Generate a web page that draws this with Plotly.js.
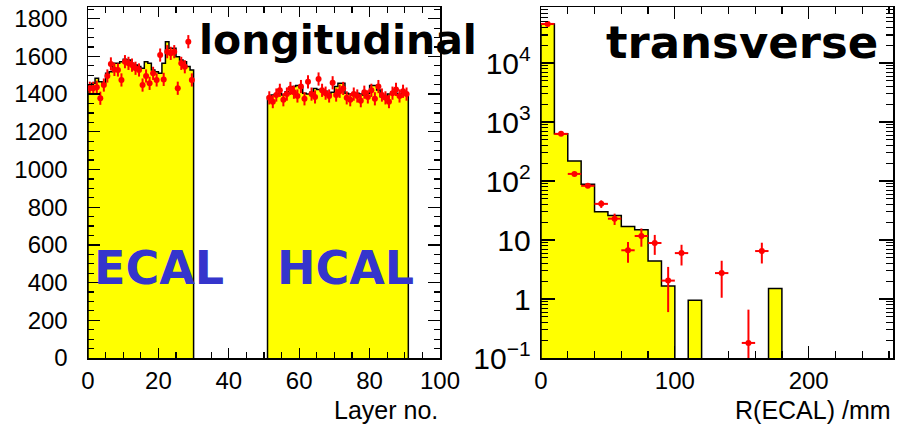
<!DOCTYPE html>
<html><head><meta charset="utf-8">
<script src="https://cdn.plot.ly/plotly-3.0.1.min.js"></script>
<style>html,body{margin:0;padding:0;background:#fff}#chart{width:897px;height:427px}</style>
</head><body><div id="chart"></div>
<script>
// ---- Longitudinal profile (layer no.) ----
const ecalFirstLayer = 0;
const ecalSim = [1448,1457,1484,1466,1457,1510,1519,1563,1563,1572,1585,1581,1563,1554,1546,1537,1572,1563,1528,1519,1510,1563,1678,1643,1643,1598,1581,1572,1546,1528];
const ecalData = [1431,1431,1436,1378,1448,1496,1560,1531,1528,1475,1572,1563,1554,1537,1528,1448,1496,1457,1510,1475,1607,1478,1625,1616,1625,1431,1563,1545,1678,1475];
const hcalFirstLayer = 51;
const hcalSim = [1385,1395,1400,1405,1395,1413,1405,1440,1445,1435,1404,1400,1410,1430,1425,1420,1415,1400,1410,1440,1457,1457,1404,1400,1395,1405,1400,1395,1404,1445,1445,1422,1386,1386,1400,1410,1404,1398,1404,1400];
const hcalData = [1380,1360,1395,1420,1370,1400,1430,1410,1390,1440,1375,1465,1400,1385,1480,1420,1405,1390,1460,1395,1415,1430,1380,1370,1400,1390,1365,1410,1385,1420,1375,1440,1395,1380,1360,1405,1425,1390,1415,1400];
const layerErr = 35;

// ---- Transverse profile R(ECAL) /mm, 10 mm bins ----
const rBinWidth = 10;
const rSim  = [46000,630,218,88,30,26,17,15,4.4,1.66,0,0.95,0,0,0,0,0,1.5];
const rData = [46000,630,132,83,41,23,6.7,11.7,8.9,2.05,6.0,null,null,2.75,null,0.18,6.5,null];
const rErrPlus  = [0,0,0,0,6,5,2.6,4.0,3.3,1.45,2.3,null,null,1.7,null,0.48,2.5,null];
const rErrMinus = [0,0,0,0,6,5,2.6,4.0,3.3,1.45,2.3,null,null,1.7,null,0.08,2.5,null];

function stepOutline(first, width, vals, floor){
  const xs=[first], ys=[floor];
  vals.forEach((v,i)=>{ xs.push(first+i*width); ys.push(v>0?v:floor); });
  xs.push(first+vals.length*width); ys.push(floor);
  return {xs, ys};
}
function centers(first,width,n){ return Array.from({length:n},(_,i)=>first+(i+0.5)*width); }

const yellow='#ffff00', red='#ff0000';
const histStyle = {mode:'lines', line:{shape:'hv', color:'#000', width:1.5}, fill:'tozeroy', fillcolor:yellow, hoverinfo:'skip', showlegend:false};
const ptStyle = (xa,ya)=>({mode:'markers', type:'scatter', xaxis:xa, yaxis:ya, marker:{color:red, size:6, symbol:'circle'}, showlegend:false});

const ec = stepOutline(ecalFirstLayer,1,ecalSim,0);
const hc = stepOutline(hcalFirstLayer,1,hcalSim,0);
const rc = stepOutline(0,rBinWidth,rSim,1e-3);

const traces = [
  Object.assign({type:'scatter', x:ec.xs, y:ec.ys, xaxis:'x', yaxis:'y'}, histStyle),
  Object.assign({type:'scatter', x:hc.xs, y:hc.ys, xaxis:'x', yaxis:'y'}, histStyle),
  Object.assign(ptStyle('x','y'), {x:centers(ecalFirstLayer,1,ecalData.length), y:ecalData,
     error_y:{type:'constant', value:layerErr, color:red, thickness:2, width:0},
     error_x:{type:'constant', value:0.5, color:red, thickness:2, width:0}}),
  Object.assign(ptStyle('x','y'), {x:centers(hcalFirstLayer,1,hcalData.length), y:hcalData,
     error_y:{type:'constant', value:layerErr, color:red, thickness:2, width:0},
     error_x:{type:'constant', value:0.5, color:red, thickness:2, width:0}}),
  Object.assign({type:'scatter', x:rc.xs, y:rc.ys, xaxis:'x2', yaxis:'y2'}, histStyle),
  Object.assign(ptStyle('x2','y2'), {x:centers(0,rBinWidth,rData.length), y:rData,
     error_y:{type:'data', array:rErrPlus, arrayminus:rErrMinus, symmetric:false, color:red, thickness:2, width:0},
     error_x:{type:'constant', value:rBinWidth/2, color:red, thickness:2, width:0}})
];

const W=897, H=427;
const tickFont = {family:'Liberation Sans, Arial, sans-serif', size:24, color:'#000'};
const axBase = {showline:true, linecolor:'#000', linewidth:1.5, mirror:'allticks', ticks:'inside', tickcolor:'#000', tickwidth:1.2,
  showgrid:false, zeroline:false, tickfont:tickFont, fixedrange:true};
const yDom = [(H-358)/H, (H-7)/H];

const layout = {
  width:W, height:H, margin:{l:0,r:0,t:0,b:0}, paper_bgcolor:'#fff', plot_bgcolor:'#fff', showlegend:false,
  xaxis: Object.assign({}, axBase, {domain:[88/W, 440/W], range:[0,100], dtick:20, ticklen:10,
     minor:{dtick:5, ticklen:6, ticks:'inside', tickcolor:'#000'}, ticklabelstandoff:1, anchor:'y'}),
  yaxis: Object.assign({}, axBase, {domain:yDom, range:[0,1862], dtick:200, ticklen:12,
     minor:{dtick:50, ticklen:6, ticks:'inside', tickcolor:'#000'}, ticklabelstandoff:14, anchor:'x'}),
  xaxis2: Object.assign({}, axBase, {domain:[541/W, 893/W], range:[0,263], dtick:100, ticklen:12,
     minor:{dtick:20, ticklen:7, ticks:'inside', tickcolor:'#000'}, ticklabelstandoff:1, anchor:'y2'}),
  yaxis2: Object.assign({}, axBase, {domain:yDom, type:'log', range:[-1,4.95], dtick:1, exponentformat:'power', ticklen:14,
     minor:{dtick:'D1', ticklen:7, ticks:'inside', tickcolor:'#000'}, ticklabelstandoff:4, anchor:'x2'}),
  annotations:[
    {text:'longitudinal', xref:'paper', yref:'paper', x:338/W, y:1-40/H, xanchor:'center', yanchor:'middle', showarrow:false,
     font:{family:'DejaVu Sans', size:41, weight:'bold', color:'#000'}},
    {text:'transverse', xref:'paper', yref:'paper', x:742/W, y:1-42/H, xanchor:'center', yanchor:'middle', showarrow:false,
     font:{family:'DejaVu Sans', size:45, weight:'bold', color:'#000'}},
    {text:'ECAL', xref:'paper', yref:'paper', x:159/W, y:1-268/H, xanchor:'center', yanchor:'middle', showarrow:false,
     font:{family:'DejaVu Sans', size:46, weight:'bold', color:'#3535cc'}},
    {text:'HCAL', xref:'paper', yref:'paper', x:345/W, y:1-268/H, xanchor:'center', yanchor:'middle', showarrow:false,
     font:{family:'DejaVu Sans', size:46, weight:'bold', color:'#3535cc'}},
    {text:'Layer no.', xref:'paper', yref:'paper', x:440/W, y:1-410/H, xanchor:'right', yanchor:'middle', showarrow:false,
     font:{family:'Liberation Sans, Arial, sans-serif', size:25, color:'#000'}},
    {text:'R(ECAL) /mm', xref:'paper', yref:'paper', x:893/W, y:1-410/H, xanchor:'right', yanchor:'middle', showarrow:false,
     font:{family:'Liberation Sans, Arial, sans-serif', size:25, color:'#000'}}
  ]
};
Plotly.newPlot('chart', traces, layout, {staticPlot:true, displayModeBar:false});
</script></body></html>
